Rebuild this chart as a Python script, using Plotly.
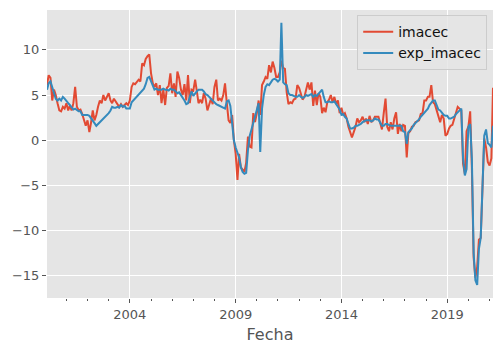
import pandas as pd
import plotly.graph_objects as go

# Monthly dates, Feb 2000 .. Mar 2021
dates = pd.date_range("2000-02-01", "2021-03-01", freq="MS")

imacec_2000 = [6.1, 7.2, 6.9, 4.4, 5.6, 5.0, 4.1, 3.3, 3.2, 3.7, 3.5]
imacec_2001 = [4.1, 3.3, 3.8, 3.3, 4.1, 5.9, 3.7, 3.3, 3.4, 2.9, 2.2, 1.6]
imacec_2002 = [2.2, 0.9, 1.9, 3.3, 2.2, 2.8, 3.7, 4.4, 4.1, 5.0, 4.4, 4.8]
imacec_2003 = [5.2, 4.4, 4.1, 4.6, 4.3, 4.1, 3.7, 4.0, 3.7, 3.9, 4.1, 3.9]
imacec_2004 = [4.4, 5.9, 6.3, 6.2, 6.4, 6.7, 6.5, 8.5, 8.3, 9.0, 9.3, 9.5]
imacec_2005 = [7.4, 6.3, 5.9, 6.3, 5.0, 6.1, 4.1, 5.6, 3.9, 5.8, 6.0, 7.4]
imacec_2006 = [5.2, 6.3, 4.8, 7.6, 6.9, 5.6, 5.0, 6.2, 4.4, 7.2, 4.1, 5.6]
imacec_2007 = [5.5, 6.7, 5.5, 4.1, 4.5, 4.1, 5.2, 4.6, 3.3, 4.0, 4.6, 4.0]
imacec_2008 = [5.9, 6.7, 4.4, 4.6, 4.4, 5.0, 6.3, 4.1, 2.2, 1.9, 2.8, 0.0]
imacec_2009 = [-1.5, -4.4, -1.5, -3.0, -3.2, -3.5, -2.5, 0.4, -0.7, -0.8, 3.0, 2.0]
imacec_2010 = [3.0, 4.4, 2.8, 6.1, 6.5, 7.0, 6.8, 8.3, 7.5, 8.7, 8.0, 7.0]
imacec_2011 = [7.0, 7.5, 8.8, 8.0, 7.9, 5.3, 4.0, 4.2, 4.1, 4.5, 4.6, 6.1]
imacec_2012 = [5.8, 5.0, 4.5, 4.8, 5.5, 6.4, 5.6, 6.4, 3.8, 5.5, 3.9, 5.2]
imacec_2013 = [4.8, 3.0, 3.6, 3.1, 4.2, 4.5, 5.0, 4.2, 4.8, 4.0, 4.4, 3.0]
imacec_2014 = [3.6, 2.8, 3.0, 2.4, 1.5, 0.8, 0.3, 0.9, 1.5, 2.4, 2.0, 2.2]
imacec_2015 = [2.6, 2.0, 2.4, 1.8, 2.7, 2.0, 2.2, 2.6, 2.6, 2.6, 1.9, 1.2]
imacec_2016 = [3.0, 4.6, 1.5, 1.0, 2.0, 1.2, 2.4, 3.1, 0.7, 1.8, 1.0, 1.7]
imacec_2017 = [1.6, -1.9, 0.8, 1.0, 1.5, 1.6, 2.0, 2.1, 2.2, 2.9, 3.0, 4.4]
imacec_2018 = [4.4, 4.8, 4.8, 6.1, 4.2, 4.0, 3.3, 2.6, 2.0, 2.8, 2.4, 0.5]
imacec_2019 = [0.7, 1.3, 1.6, 1.7, 2.4, 3.2, 3.7, 3.5, 3.3, -2.6, -3.7, 1.0]
imacec_2020 = [1.5, 3.2, -3.0, -13.0, -15.2, -14.0, -11.0, -10.8, -4.0, 0.2, -0.8, -2.4]
imacec_2021 = [-2.8, -2.0, 5.8]

exp_2000 = [5.6, 6.3, 6.5, 5.9, 5.2, 4.6, 4.4, 4.6, 4.4, 4.8, 4.6]
exp_2001 = [4.4, 4.1, 3.9, 3.7, 3.4, 3.5, 3.3, 3.2, 3.2, 2.8, 2.8, 2.8]
exp_2002 = [2.8, 2.7, 2.4, 2.2, 1.9, 1.6, 1.8, 1.9, 2.1, 2.4, 2.6, 2.8]
exp_2003 = [3.0, 3.3, 3.7, 3.6, 3.6, 3.7, 3.6, 3.9, 3.7, 3.8, 3.5, 3.5]
exp_2004 = [3.5, 4.2, 4.4, 4.6, 4.8, 5.0, 5.2, 5.5, 5.7, 6.2, 6.9, 7.0]
exp_2005 = [6.5, 5.9, 5.6, 5.7, 5.6, 5.6, 5.6, 5.7, 5.6, 5.6, 5.5, 5.7]
exp_2006 = [5.6, 5.6, 5.4, 5.2, 5.3, 5.0, 4.8, 4.4, 4.0, 4.1, 4.8, 5.4]
exp_2007 = [4.9, 5.2, 5.4, 5.6, 5.6, 5.6, 5.4, 5.1, 5.0, 4.8, 4.6, 4.4]
exp_2008 = [4.1, 4.0, 3.9, 3.8, 3.7, 3.6, 3.5, 4.3, 4.4, 3.8, 1.5, 0.0]
exp_2009 = [-0.8, -1.5, -1.9, -3.0, -3.5, -3.7, -3.6, -1.1, 0.5, 1.2, 2.0, 2.6]
exp_2010 = [3.3, 4.1, -1.3, 3.5, 5.0, 5.9, 6.2, 6.1, 6.4, 6.7, 6.8, 6.7]
exp_2011 = [6.5, 6.7, 13.0, 6.4, 6.2, 6.1, 5.2, 5.0, 5.0, 4.9, 4.8, 4.8]
exp_2012 = [5.0, 4.8, 4.7, 4.8, 5.0, 4.9, 5.0, 5.1, 4.8, 5.0, 4.9, 5.1]
exp_2013 = [5.3, 5.6, 4.8, 4.2, 4.2, 4.3, 4.2, 4.2, 4.3, 4.0, 3.8, 3.4]
exp_2014 = [2.8, 2.9, 2.6, 2.4, 1.8, 1.3, 1.3, 1.4, 1.6, 1.6, 1.7, 1.8]
exp_2015 = [2.0, 2.1, 2.2, 2.2, 2.2, 2.1, 2.2, 2.4, 2.3, 2.3, 1.9, 1.6]
exp_2016 = [1.6, 1.8, 1.8, 1.7, 1.6, 1.6, 1.6, 1.6, 1.6, 1.6, 1.6, 1.0]
exp_2017 = [0.9, -0.4, 0.9, 1.1, 1.3, 1.7, 1.9, 2.0, 2.3, 2.6, 2.8, 3.0]
exp_2018 = [3.2, 3.5, 3.9, 4.2, 4.4, 4.4, 3.8, 3.4, 3.3, 3.0, 2.8, 2.7]
exp_2019 = [2.7, 2.4, 2.4, 2.5, 2.6, 2.9, 3.1, 3.3, 3.5, -2.0, -3.9, -3.2]
exp_2020 = [1.5, 1.8, -2.0, -12.5, -15.5, -16.0, -12.0, -10.8, -4.5, 0.5, 1.2, -0.3]
exp_2021 = [-0.5, -0.8, 1.6]

imacec = (imacec_2000 + imacec_2001 + imacec_2002 + imacec_2003 + imacec_2004
          + imacec_2005 + imacec_2006 + imacec_2007 + imacec_2008 + imacec_2009
          + imacec_2010 + imacec_2011 + imacec_2012 + imacec_2013 + imacec_2014
          + imacec_2015 + imacec_2016 + imacec_2017 + imacec_2018 + imacec_2019
          + imacec_2020 + imacec_2021)
exp_imacec = (exp_2000 + exp_2001 + exp_2002 + exp_2003 + exp_2004 + exp_2005
              + exp_2006 + exp_2007 + exp_2008 + exp_2009 + exp_2010 + exp_2011
              + exp_2012 + exp_2013 + exp_2014 + exp_2015 + exp_2016 + exp_2017
              + exp_2018 + exp_2019 + exp_2020 + exp_2021)

x_tick_years = [2004, 2009, 2014, 2019]
y_ticks = [-15, -10, -5, 0, 5, 10]

FONT = "DejaVu Sans"
GREY = "#555555"

fig = go.Figure()
fig.add_trace(go.Scatter(x=dates, y=imacec, mode="lines", name="imacec",
                         line=dict(color="#E24A33", width=2)))
fig.add_trace(go.Scatter(x=dates, y=exp_imacec, mode="lines", name="exp_imacec",
                         line=dict(color="#348ABD", width=2)))

fig.update_layout(
    width=503, height=352,
    margin=dict(l=47, r=10, t=10, b=54),
    paper_bgcolor="white",
    plot_bgcolor="#E5E5E5",
    font=dict(family=FONT, color=GREY, size=13),
    showlegend=True,
    legend=dict(
        x=0.987, y=0.982, xanchor="right", yanchor="top",
        bgcolor="rgba(229,229,229,0.8)", bordercolor="#CCCCCC", borderwidth=1,
        font=dict(family=FONT, size=14, color="#111111"),
        itemwidth=30, tracegroupgap=0,
    ),
    xaxis=dict(
        type="date",
        range=[dates[0], dates[-1]],
        tickmode="array",
        tickvals=[pd.Timestamp(f"{yr}-01-01") for yr in x_tick_years],
        ticktext=[str(yr) for yr in x_tick_years],
        ticks="outside", ticklen=4, tickwidth=1, tickcolor=GREY,
        tickfont=dict(size=13, color=GREY),
        showgrid=True, gridcolor="white", gridwidth=1.3,
        zeroline=False, showline=False,
        minor=dict(ticks="outside", ticklen=2, tickwidth=1, tickcolor=GREY,
                   tick0="2000-01-01", dtick="M12", showgrid=False),
        title=dict(text="Fecha", font=dict(size=16, color=GREY), standoff=8),
    ),
    yaxis=dict(
        range=[-17.45, 14.41],
        tickmode="array", tickvals=y_ticks,
        ticks="outside", ticklen=4, tickwidth=1, tickcolor=GREY,
        tickfont=dict(size=13, color=GREY),
        showgrid=True, gridcolor="white", gridwidth=1.3,
        zeroline=False, showline=False,
    ),
)

fig.write_html("out.html")
